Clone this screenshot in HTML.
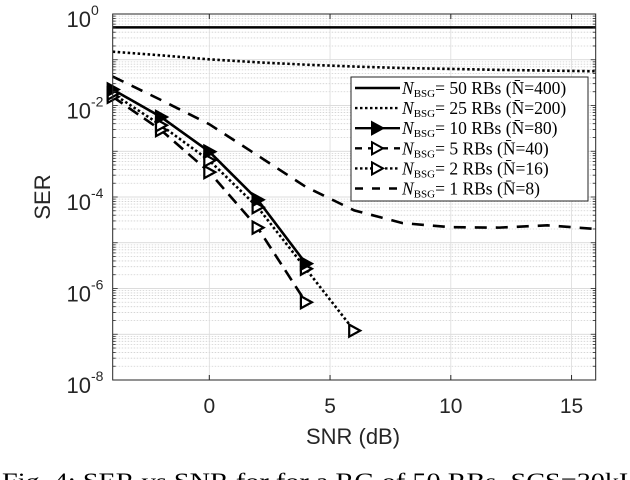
<!DOCTYPE html>
<html><head><meta charset="utf-8"><style>
html,body{margin:0;padding:0;background:#fff;width:630px;height:480px;overflow:hidden}
svg{display:block}
</style></head><body>
<svg id="chart" width="630" height="480" xmlns="http://www.w3.org/2000/svg" font-family="Liberation Sans, sans-serif">
</svg>
<script>
const snr = [-4,-2,0,2,4,6,8,10,12,14,16];
const ser50 = [0.51,0.51,0.51,0.51,0.51,0.51,0.51,0.51,0.51,0.51,0.51];
const ser25 = [0.15,0.125,0.102,0.088,0.078,0.071,0.066,0.063,0.060,0.058,0.056];
const snrShort = [-4,-2,0,2,4];
const ser10 = [0.0224,0.0056,0.00098,0.000087,0.0000035];
const ser5 = [0.0155,0.0029,0.00035,0.0000214,0.0000005];
const snr2 = [-4,-2,0,2,4,6];
const ser2 = [0.0182,0.0037,0.00063,0.00006,0.0000027,0.00000012];
const ser1 = [0.043,0.0132,0.0039,0.00081,0.000166,0.000051,0.0000269,0.0000219,0.0000214,0.000024,0.000020];
const xTicks = [0,5,10,15];
const yTickExps = [0,-2,-4,-6,-8];
const legendLabels = ["50 RBs (N\u0304=400)","25 RBs (N\u0304=200)","10 RBs (N\u0304=80)","5 RBs (N\u0304=40)","2 RBs (N\u0304=16)","1 RBs (N\u0304=8)"];

const L=112.7,R=595.7,T=14,B=380;
const X=v=>L+(v+4)/20*(R-L);
const Y=v=>T+(-Math.log10(v))/8*(B-T);
const svg=document.getElementById('chart');
const NS='http://www.w3.org/2000/svg';
function mk(tag,attrs,parent){const e=document.createElementNS(NS,tag);for(const k in attrs)e.setAttribute(k,attrs[k]);(parent||svg).appendChild(e);return e;}

// grid
const grid=mk('g',{});


for(let e=0;e>-8;e--){for(let k=1;k<10;k++){const v=k*Math.pow(10,e-1);const y=Y(v);if(y<T||y>B)continue;
 mk('line',{x1:L,x2:R,y1:y,y2:y,stroke:'#d0d0d0','stroke-width':0.8,'stroke-dasharray':k==1?'':'1.5,1.5'},grid);}}
xTicks.forEach(t=>mk('line',{x1:X(t),x2:X(t),y1:T,y2:B,stroke:'#dcdcdc','stroke-width':0.8},grid));

// series
function series(name,xs,ys,dash,marker,fill){
 const g=mk('g',{});
 
 
 mk('polyline',{points:xs.map((x,i)=>X(x)+','+Y(ys[i])).join(' '),fill:'none',stroke:'#000','stroke-width':2.6,'stroke-dasharray':dash},g);
 if(marker)xs.forEach((x,i)=>{const cx=X(x),cy=Y(ys[i]);
  const m=mk('path',{d:`M${cx-5},${cy-6} L${cx+6},${cy} L${cx-5},${cy+6} Z`,fill:fill,stroke:'#000','stroke-width':2.2},g);
  
  });
}
series('series-50rb',snr,ser50,'',false);
series('series-25rb',snr,ser25,'2.5,2.5',false);
series('series-1rb',snr,ser1,'12,9',false);
series('series-5rb',snrShort,ser5,'12,7',true,'#fff');
series('series-2rb',snr2,ser2,'2.5,2.5',true,'#fff');
series('series-10rb',snrShort,ser10,'',true,'#000');

// axes box
const ax=mk('rect',{x:L,y:T,width:R-L,height:B-T,fill:'none',stroke:'#262626','stroke-width':1});


xTicks.forEach(t=>{mk('line',{x1:X(t),x2:X(t),y1:B,y2:B-5,stroke:'#262626'});mk('line',{x1:X(t),x2:X(t),y1:T,y2:T+5,stroke:'#262626'});
 const tx=mk('text',{x:X(t),y:413,'font-size':21,'text-anchor':'middle',fill:'#262626'});tx.textContent=t;
 
 });
for(let e=0;e>-8;e--){for(let k=1;k<10;k++){const y=Y(k*Math.pow(10,e-1));const len=k==1?5:3;
 mk('line',{x1:L,x2:L+len,y1:y,y2:y,stroke:'#262626','stroke-width':0.8});mk('line',{x1:R,x2:R-len,y1:y,y2:y,stroke:'#262626','stroke-width':0.8});}}
yTickExps.forEach(e=>{const y=Y(Math.pow(10,e));
 const tx=mk('text',{x:91,y:y+13,'font-size':22,'text-anchor':'end',fill:'#262626'});
 
 
 tx.textContent='10';
 const s=mk('text',{x:91,y:y+1,'font-size':14,fill:'#262626'});s.textContent=e;
 
 });

// axis titles
const xt=mk('text',{x:353,y:444,'font-size':22,'text-anchor':'middle',fill:'#262626'});xt.textContent='SNR (dB)';


const yt=mk('text',{x:0,y:0,'font-size':22,'text-anchor':'middle',fill:'#262626',transform:'translate(50,197) rotate(-90)'});yt.textContent='SER';



// legend
const lg=mk('g',{});


mk('rect',{x:351,y:77,width:237,height:124,fill:'#fff',stroke:'#262626','stroke-width':1},lg);
const styles=[['',false,''],['2.5,2.5',false,''],['',true,'#000'],['7,6',true,'#fff'],['2.5,2.5',true,'#fff'],['8,9',false,'']];
legendLabels.forEach((lab,i)=>{const y=88+i*20.1;
 const en=mk('g',{},lg);
 
 
 mk('line',{x1:355,x2:400,y1:y,y2:y,stroke:'#000','stroke-width':2.4,'stroke-dasharray':styles[i][0]},en);
 if(styles[i][1])mk('path',{d:`M${372},${y-6} L${383},${y} L${372},${y+6} Z`,fill:styles[i][2],stroke:'#000','stroke-width':2},en);
 const t=mk('text',{x:402,y:y+6,'font-size':17.5,'font-family':'Liberation Serif, serif',fill:'#000'},en);
 const n=mk('tspan',{'font-style':'italic'},t);n.textContent='N';
 const sub=mk('tspan',{'font-size':11,dy:3},t);sub.textContent='BSG';
 const rest=mk('tspan',{dy:-3},t);rest.textContent='= '+lab;
});

// caption
const cap=mk('text',{x:2,y:489,'font-size':23,'font-family':'Liberation Serif, serif',fill:'#000',textLength:650,lengthAdjust:'spacingAndGlyphs'});
cap.textContent='Fig. 4: SER vs SNR for for a RG of 50 RBs, SCS=30kHz';


</script>
</body></html>
